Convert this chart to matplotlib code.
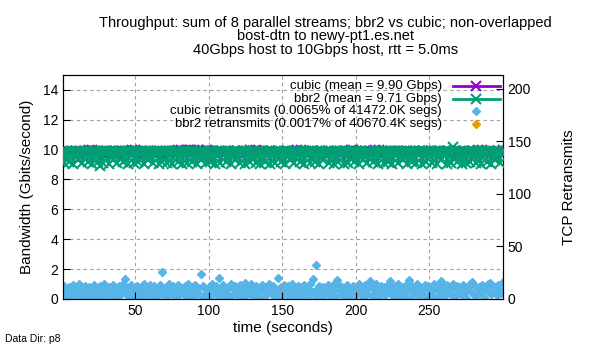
import numpy as np
import matplotlib
matplotlib.use("Agg")
import matplotlib.pyplot as plt
from matplotlib.lines import Line2D

plt.rcParams["font.family"] = ["Liberation Sans", "DejaVu Sans"]
plt.rcParams["font.size"] = 10

# --- data (one sample per second) ---
time_s = np.arange(1, 301)

cubic_gbps = [
    9.85, 9.8, 9.85, 9.9, 9.85, 9.85, 9.8, 9.85, 9.85, 9.9, 9.85, 9.8, 9.85, 9.85, 9.9, 9.85, 9.8, 9.85, 10.0, 9.85,
    10.0, 9.85, 9.8, 9.85, 9.9, 9.85, 9.85, 9.8, 9.85, 9.9, 9.85, 9.85, 9.8, 9.85, 9.85, 9.9, 9.85, 9.8, 9.85, 9.85,
    9.9, 9.85, 9.8, 9.85, 9.85, 9.9, 9.85, 10.0, 9.85, 10.0, 9.85, 9.8, 9.85, 9.9, 9.85, 9.85, 9.8, 9.85, 9.85, 9.9,
    9.85, 9.8, 9.85, 9.85, 9.9, 9.85, 9.85, 9.8, 9.85, 9.85, 9.9, 9.85, 9.8, 9.85, 9.85, 9.9, 9.85, 9.85, 10.0, 9.85,
    10.0, 9.8, 9.85, 9.85, 9.9, 10.0, 9.85, 10.0, 9.85, 10.0, 9.85, 9.8, 10.0, 9.85, 9.9, 9.85, 9.85, 9.8, 10.0, 9.85,
    9.85, 9.9, 9.85, 9.8, 9.85, 9.85, 9.9, 9.85, 9.85, 9.8, 9.85, 9.85, 9.9, 9.85, 9.8, 9.85, 9.85, 9.9, 9.85, 9.85,
    9.8, 9.85, 9.85, 9.9, 9.85, 9.8, 9.85, 10.0, 9.85, 9.85, 9.9, 10.0, 9.85, 9.8, 9.85, 9.85, 9.9, 9.85, 9.8, 9.85,
    9.85, 9.9, 9.85, 9.8, 9.85, 9.85, 9.9, 9.85, 9.85, 9.8, 9.85, 9.85, 9.9, 9.85, 9.8, 9.85, 9.85, 9.9, 9.85, 10.0,
    9.85, 9.8, 10.0, 9.85, 9.9, 9.85, 9.85, 9.8, 9.85, 9.85, 9.9, 9.85, 9.8, 9.85, 9.85, 9.9, 9.85, 9.85, 9.8, 9.85,
    9.85, 9.9, 9.85, 9.8, 9.85, 9.85, 9.9, 9.85, 9.85, 9.8, 9.85, 9.85, 9.9, 9.85, 9.8, 9.85, 10.0, 10.0, 9.85, 9.85,
    9.9, 9.85, 9.8, 9.85, 9.85, 9.9, 9.85, 9.85, 9.8, 9.85, 9.85, 9.9, 10.0, 9.85, 9.8, 10.0, 9.85, 9.9, 9.85, 9.85,
    9.8, 9.85, 9.85, 9.9, 9.85, 9.8, 9.85, 9.85, 9.9, 9.85, 9.85, 9.8, 9.85, 9.85, 9.9, 9.85, 9.8, 9.85, 9.85, 9.9,
    9.85, 9.85, 9.8, 9.85, 9.85, 9.9, 9.85, 9.8, 9.85, 9.85, 9.9, 9.85, 9.85, 9.8, 9.85, 9.85, 9.9, 9.85, 9.8, 9.85,
    9.85, 9.9, 9.85, 9.85, 9.8, 9.85, 9.85, 9.9, 9.85, 9.8, 9.85, 9.85, 9.9, 9.85, 9.85, 9.8, 9.85, 9.85, 9.9, 9.85,
    9.8, 9.85, 10.0, 9.85, 9.9, 10.0, 9.85, 9.8, 9.85, 9.85, 9.9, 9.85, 9.85, 9.8, 9.85, 9.85, 9.9, 9.85, 9.8, 10.0,
]

bbr2_gbps = [
    9.9, 9.1, 9.9, 9.85, 9.2, 9.9, 9.9, 9.0, 9.85, 9.9, 9.3, 9.9, 9.9, 9.1, 9.85, 9.9, 9.9, 9.2, 9.9, 9.85,
    9.0, 9.9, 9.9, 9.85, 9.2, 8.9, 9.9, 9.1, 9.9, 9.85, 9.9, 9.0, 9.9, 9.9, 9.3, 9.85, 9.9, 9.1, 9.9, 9.9,
    9.85, 9.2, 9.9, 9.9, 9.0, 9.9, 9.85, 9.9, 9.1, 9.9, 9.9, 9.2, 9.85, 9.9, 9.9, 9.0, 9.9, 9.9, 9.3, 9.85,
    9.9, 9.1, 9.9, 9.85, 9.9, 9.0, 9.9, 9.2, 9.9, 9.85, 9.9, 9.1, 9.9, 9.9, 9.0, 9.85, 9.9, 9.9, 9.2, 9.9,
    9.85, 9.0, 9.9, 9.9, 9.1, 9.85, 9.9, 9.9, 9.2, 9.9, 9.9, 9.0, 9.85, 9.9, 9.3, 9.9, 9.9, 9.1, 9.85, 9.9,
    9.2, 9.9, 9.9, 9.0, 9.85, 9.9, 9.9, 9.1, 9.9, 9.85, 9.9, 9.2, 9.9, 9.9, 9.0, 9.85, 9.9, 9.3, 9.9, 9.9,
    9.1, 9.85, 9.9, 9.9, 9.0, 9.9, 9.85, 9.2, 9.9, 9.9, 9.9, 9.1, 9.85, 9.9, 9.0, 9.9, 9.9, 9.2, 9.85, 9.9,
    9.9, 9.0, 9.9, 9.85, 9.1, 9.9, 9.9, 9.9, 9.2, 9.85, 9.9, 9.0, 9.9, 9.9, 9.3, 9.85, 9.9, 9.1, 9.9, 9.9,
    9.85, 9.2, 9.9, 9.9, 9.0, 9.9, 9.85, 9.9, 9.1, 9.9, 9.9, 9.2, 9.85, 9.9, 9.0, 9.9, 9.9, 9.3, 9.85, 9.9,
    9.9, 9.1, 9.9, 9.85, 9.0, 9.9, 9.9, 9.2, 9.9, 9.85, 9.9, 9.0, 9.9, 9.9, 9.1, 9.85, 9.9, 9.9, 9.2, 9.9,
    9.85, 9.0, 9.9, 9.9, 9.3, 9.85, 9.9, 9.1, 9.9, 9.9, 9.85, 9.2, 9.9, 9.9, 9.0, 9.9, 9.85, 9.9, 9.1, 9.9,
    9.9, 9.2, 9.85, 9.9, 9.0, 9.9, 9.9, 9.9, 9.1, 9.85, 9.9, 9.3, 9.9, 9.9, 9.0, 9.85, 9.9, 9.2, 9.9, 9.9,
    9.1, 9.85, 9.9, 9.9, 9.0, 9.9, 9.85, 9.2, 9.9, 9.9, 9.9, 9.1, 9.85, 9.9, 9.0, 9.9, 9.9, 9.3, 9.85, 9.9,
    9.9, 9.0, 9.9, 9.85, 9.1, 10.2, 9.9, 9.9, 9.2, 9.85, 9.9, 9.0, 9.9, 9.9, 9.1, 9.85, 9.9, 9.2, 9.9, 9.9,
    9.85, 9.1, 9.9, 9.9, 9.0, 9.9, 9.85, 9.9, 9.2, 9.9, 9.9, 9.0, 9.85, 9.9, 9.3, 9.9, 9.9, 9.1, 9.85, 9.9,
]

cubic_retrans = [
    9, 12, 5, 3, 11, 8, 1, 13, 7, 4, 10, 14, 6, 2, 9, 12, 4, 8, 11, 3,
    7, 13, 5, 0, 10, 12, 6, 3, 14, 8, 2, 11, 9, 5, 13, 7, 1, 10, 12, 4,
    8, 14, 19, 6, 3, 11, 13, 7, 2, 9, 12, 5, 10, 1, 8, 14, 6, 11, 3, 13,
    9, 4, 12, 7, 2, 10, 13, 26, 5, 8, 11, 3, 14, 6, 9, 12, 2, 7, 13, 4,
    10, 8, 5, 12, 1, 14, 9, 6, 11, 3, 13, 7, 10, 4, 24, 12, 0, 8, 6, 11,
    3, 14, 9, 5, 12, 7, 20, 2, 10, 13, 6, 8, 1, 11, 14, 4, 9, 12, 6, 3,
    13, 8, 10, 2, 15, 7, 11, 5, 14, 9, 3, 12, 6, 10, 1, 13, 8, 11, 4, 7,
    14, 10, 5, 12, 2, 9, 20, 6, 11, 3, 13, 8, 7, 12, 1, 10, 14, 5, 9, 4,
    12, 6, 11, 2, 13, 8, 10, 4, 14, 7, 19, 3, 32, 9, 12, 5, 1, 11, 8, 6,
    13, 4, 10, 7, 14, 2, 18, 9, 12, 5, 11, 3, 8, 13, 6, 10, 1, 12, 7, 4,
    9, 14, 6, 11, 2, 13, 8, 5, 12, 17, 3, 10, 7, 14, 1, 9, 12, 6, 11, 4,
    8, 13, 17, 5, 10, 2, 12, 7, 14, 3, 9, 11, 6, 13, 1, 18, 8, 12, 4, 10,
    7, 14, 3, 11, 9, 5, 13, 2, 12, 8, 6, 10, 14, 1, 9, 12, 4, 17, 7, 11,
    3, 13, 8, 10, 5, 14, 2, 9, 12, 6, 11, 4, 13, 7, 1, 10, 8, 14, 16, 5,
    12, 3, 9, 11, 6, 13, 2, 10, 8, 14, 15, 5, 12, 7, 11, 4, 13, 9, 6, 16,
]

# bbr2 retransmits are not visible in the picture (hidden at the bottom)
bbr2_retrans_t = []
bbr2_retrans = []

labels = [
    "cubic (mean = 9.90 Gbps)",
    "bbr2 (mean = 9.71 Gbps)",
    "cubic retransmits (0.0065% of 41472.0K segs)",
    "bbr2 retransmits (0.0017% of 40670.4K segs)",
]

PURPLE = "#9400D3"
GREEN = "#009E73"
BLUE = "#56B4E9"
ORANGE = "#E69F00"

fig = plt.figure(figsize=(6, 3.5), dpi=100)
ax = fig.add_axes([0.105, 0.146, 0.733, 0.640])
ax2 = ax.twinx()

ax.plot(time_s, cubic_gbps, color=PURPLE, lw=2, marker="x", ms=6.5, mew=1.5, zorder=2)
ax.plot(time_s, bbr2_gbps, color=GREEN, lw=2, marker="x", ms=6.5, mew=1.5, zorder=3)
ax2.plot(time_s, cubic_retrans, ls="none", marker="D", ms=3.8, color=BLUE, mec=BLUE)
ax2.plot(bbr2_retrans_t, bbr2_retrans, ls="none", marker="D", ms=3.8, color=ORANGE)

ax.set_zorder(ax2.get_zorder() + 1)
ax.patch.set_visible(False)

ax.set_xlim(1, 300)
ax.set_ylim(0, 15)
ax2.set_ylim(0, 213)
ax.set_xticks([50, 100, 150, 200, 250])
ax.set_yticks(range(0, 15, 2))
ax2.set_yticks([0, 50, 100, 150, 200])
ax.tick_params(direction="in", length=5, labelsize=10)
ax2.tick_params(direction="in", length=5, labelsize=10)
ax.grid(True, color="#a0a0a0", ls=(0, (3, 3)), lw=0.8)

ax.set_xlabel("time (seconds)", fontsize=11, labelpad=2)
ax.set_ylabel("Bandwidth (Gbits/second)", fontsize=11, labelpad=6)
ax2.set_ylabel("TCP Retransmits", fontsize=11, labelpad=22)

# gnuplot style key: text right aligned, sample at the right
rows = [0.951, 0.893, 0.839, 0.781]
styles = [
    dict(color=PURPLE, lw=2, marker="x", ms=6.5, mew=1.5),
    dict(color=GREEN, lw=2, marker="x", ms=6.5, mew=1.5),
    dict(color=BLUE, ls="none", marker="D", ms=3.8),
    dict(color=ORANGE, ls="none", marker="D", ms=3.8),
]
for lab, yy, st in zip(labels, rows, styles):
    ax.text(0.862, yy, lab, transform=ax.transAxes, ha="right", va="center", fontsize=9.5,
            zorder=5)
    if st.get("ls") == "none":
        ax.add_line(Line2D([0.94], [yy], transform=ax.transAxes, clip_on=False, zorder=5, **st))
    else:
        ax.add_line(Line2D([0.886, 0.94, 0.993], [yy, yy, yy], transform=ax.transAxes,
                           markevery=[1], clip_on=False, zorder=5, **st))

fig.text(0.543, 0.955, "Throughput: sum of 8 parallel streams; bbr2 vs cubic; non-overlapped\n"
         "bost-dtn to newy-pt1.es.net\n40Gbps host to 10Gbps host, rtt = 5.0ms",
         ha="center", va="top", fontsize=10.5, linespacing=0.95)
fig.text(0.008, 0.03, "Data Dir: p8", ha="left", va="center", fontsize=7.5)

fig.savefig("out.png", dpi=100)
